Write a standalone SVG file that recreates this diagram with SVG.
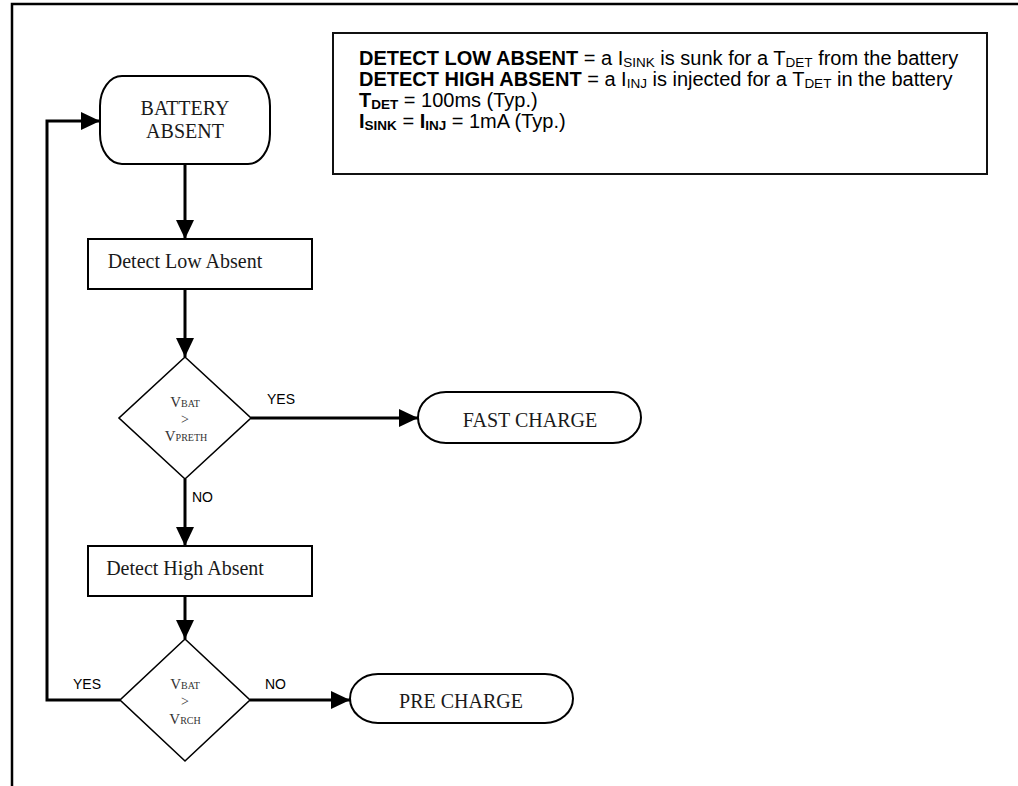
<svg xmlns="http://www.w3.org/2000/svg" width="1018" height="786" viewBox="0 0 1018 786">
<style>
.node{fill:#fff;stroke:#000;stroke-width:2}
.dia{fill:#fff;stroke:#000;stroke-width:1.6}
.conn{fill:none;stroke:#000;stroke-width:3}
.tm{font-family:"Liberation Serif","Times New Roman",serif;fill:#1a1a1a;text-anchor:middle}
.dt{fill:#333}
.lbl{font-family:"Liberation Sans",Arial,sans-serif;font-size:14px;fill:#000}
.info{font-family:"Liberation Sans",Arial,sans-serif;font-size:20px;fill:#000}
.b{font-weight:bold}
</style>
<defs>
<marker id="ah" markerUnits="userSpaceOnUse" markerWidth="20" markerHeight="20" refX="19" refY="9" orient="auto">
<path d="M0,0 L19,9 L0,18 Z" fill="#000"/>
</marker>
</defs>
<rect width="1018" height="786" fill="#fff"/>
<g id="frame">
<path d="M12,786 L12,4 L1018,4" fill="none" stroke="#000" stroke-width="2.5"/>
</g>
<g id="info">
<rect x="333" y="33" width="654" height="141" fill="#fff" stroke="#111" stroke-width="2"/>
<text class="info" x="359" y="65"><tspan class="b">DETECT LOW ABSENT</tspan> = a I<tspan font-size="13.5" dy="2">SINK</tspan><tspan dy="-2"> is sunk for a T</tspan><tspan font-size="13.5" dy="2">DET</tspan><tspan dy="-2"> from the battery</tspan></text>
<text class="info" x="359" y="86"><tspan class="b">DETECT HIGH ABSENT</tspan> = a I<tspan font-size="13.5" dy="2">INJ</tspan><tspan dy="-2"> is injected for a T</tspan><tspan font-size="13.5" dy="2">DET</tspan><tspan dy="-2"> in the battery</tspan></text>
<text class="info" x="359" y="107"><tspan class="b">T</tspan><tspan class="b" font-size="13.5" dy="2">DET</tspan><tspan dy="-2"> = 100ms (Typ.)</tspan></text>
<text class="info" x="359" y="128"><tspan class="b">I</tspan><tspan class="b" font-size="13.5" dy="2">SINK</tspan><tspan dy="-2"> = </tspan><tspan class="b">I</tspan><tspan class="b" font-size="13.5" dy="2">INJ</tspan><tspan dy="-2"> = 1mA (Typ.)</tspan></text>
</g>
<g id="connectors">
<path class="conn" d="M185,164 L185,239" marker-end="url(#ah)"/>
<path class="conn" d="M185,289 L185,357" marker-end="url(#ah)"/>
<path class="conn" d="M251,418 L418,418" marker-end="url(#ah)"/>
<path class="conn" d="M185,479 L185,546" marker-end="url(#ah)"/>
<path class="conn" d="M185,596 L185,639" marker-end="url(#ah)"/>
<path class="conn" d="M250,700 L350,700" marker-end="url(#ah)"/>
<path class="conn" d="M120,700 L47,700 L47,121 L100,121" marker-end="url(#ah)"/>
<text class="lbl" x="267" y="404">YES</text>
<text class="lbl" x="192" y="502">NO</text>
<text class="lbl" x="73" y="689">YES</text>
<text class="lbl" x="265" y="689">NO</text>
</g>
<g id="battery-absent">
<rect class="node" x="100" y="76" width="170" height="88" rx="22" ry="30"/>
<text class="tm" x="185" y="115" font-size="20">BATTERY</text>
<text class="tm" x="185" y="138" font-size="20">ABSENT</text>
</g>
<g id="detect-low">
<rect class="node" x="88" y="239" width="224" height="50"/>
<text class="tm" x="185" y="268" font-size="20">Detect Low Absent</text>
</g>
<g id="decision-1">
<path class="dia" d="M185,357 L251,418 L185,479 L119,418 Z"/>
<text class="tm dt" x="185" y="407" font-size="15">V<tspan font-size="10">BAT</tspan></text>
<text class="tm dt" x="185" y="424" font-size="14">&gt;</text>
<text class="tm dt" x="186" y="441" font-size="15">V<tspan font-size="10">PRETH</tspan></text>
</g>
<g id="fast-charge">
<rect class="node" x="418" y="392" width="223" height="51" rx="28" ry="25.5"/>
<text class="tm" x="530" y="427" font-size="20">FAST CHARGE</text>
</g>
<g id="detect-high">
<rect class="node" x="88" y="546" width="224" height="50"/>
<text class="tm" x="185" y="575" font-size="20">Detect High Absent</text>
</g>
<g id="decision-2">
<path class="dia" d="M185,639 L250,700 L185,761 L120,700 Z"/>
<text class="tm dt" x="185" y="689" font-size="15">V<tspan font-size="10">BAT</tspan></text>
<text class="tm dt" x="185" y="706" font-size="14">&gt;</text>
<text class="tm dt" x="185" y="724" font-size="15">V<tspan font-size="10">RCH</tspan></text>
</g>
<g id="pre-charge">
<rect class="node" x="350" y="674" width="223" height="49" rx="28" ry="24.5"/>
<text class="tm" x="461" y="708" font-size="20">PRE CHARGE</text>
</g>
</svg>
